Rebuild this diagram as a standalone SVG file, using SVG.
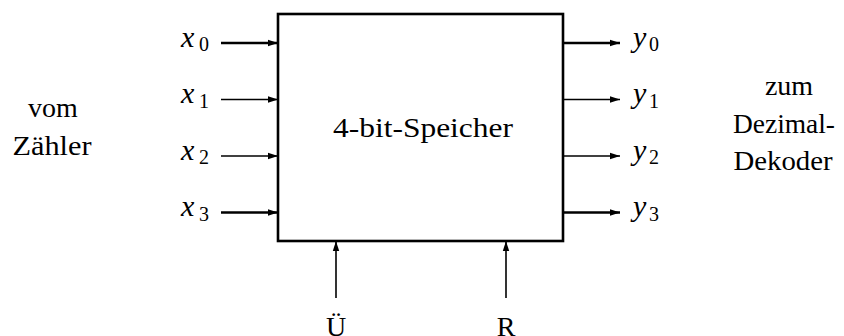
<svg xmlns="http://www.w3.org/2000/svg" width="844" height="336" viewBox="0 0 844 336">
<style>
.thick{stroke:#000;stroke-width:2.6;fill:none}
.thin{stroke:#000;stroke-width:1.6;fill:none}
.box{stroke:#000;stroke-width:2.6;fill:#fff}
</style>
<defs>
<marker id="ah" viewBox="0 0 10 8" refX="10" refY="4" markerUnits="userSpaceOnUse" markerWidth="10" markerHeight="8" orient="auto">
<path d="M0,0.8 L10,4 L0,7.2 Z" fill="#000"/>
</marker>
</defs>
<g id="connectors">
<line class="thick" x1="221" y1="43" x2="278" y2="43" marker-end="url(#ah)"/>
<line class="thin" x1="221" y1="99.5" x2="278" y2="99.5" marker-end="url(#ah)"/>
<line class="thin" x1="221" y1="156" x2="278" y2="156" marker-end="url(#ah)"/>
<line class="thick" x1="221" y1="212.5" x2="278" y2="212.5" marker-end="url(#ah)"/>
<line class="thick" x1="563" y1="43" x2="620" y2="43" marker-end="url(#ah)"/>
<line class="thin" x1="563" y1="99.5" x2="620" y2="99.5" marker-end="url(#ah)"/>
<line class="thin" x1="563" y1="156" x2="620" y2="156" marker-end="url(#ah)"/>
<line class="thick" x1="563" y1="212.5" x2="620" y2="212.5" marker-end="url(#ah)"/>
<line class="thin" x1="336" y1="298" x2="336" y2="241" stroke-width="2" marker-end="url(#ah)"/>
<line class="thin" x1="506" y1="298" x2="506" y2="241" stroke-width="2" marker-end="url(#ah)"/>
</g>
<g id="speicher">
<rect class="box" x="278" y="14" width="285" height="227"/>
<text font-family="Liberation Serif" font-size="28" x="423" y="137" text-anchor="middle" textLength="180" lengthAdjust="spacingAndGlyphs">4-bit-Speicher</text>
</g>
<g id="inputs">
<text font-family="Liberation Serif" font-size="30" font-style="italic" x="181" y="46.5">x</text><text font-family="Liberation Serif" font-size="20" x="199" y="51">0</text>
<text font-family="Liberation Serif" font-size="30" font-style="italic" x="181" y="103">x</text><text font-family="Liberation Serif" font-size="20" x="199" y="107.5">1</text>
<text font-family="Liberation Serif" font-size="30" font-style="italic" x="181" y="159.5">x</text><text font-family="Liberation Serif" font-size="20" x="199" y="164">2</text>
<text font-family="Liberation Serif" font-size="30" font-style="italic" x="181" y="216">x</text><text font-family="Liberation Serif" font-size="20" x="199" y="220.5">3</text>
</g>
<g id="outputs">
<text font-family="Liberation Serif" font-size="30" font-style="italic" x="633" y="46.5">y</text><text font-family="Liberation Serif" font-size="20" x="649" y="51">0</text>
<text font-family="Liberation Serif" font-size="30" font-style="italic" x="633" y="103">y</text><text font-family="Liberation Serif" font-size="20" x="649" y="107.5">1</text>
<text font-family="Liberation Serif" font-size="30" font-style="italic" x="633" y="159.5">y</text><text font-family="Liberation Serif" font-size="20" x="649" y="164">2</text>
<text font-family="Liberation Serif" font-size="30" font-style="italic" x="633" y="216">y</text><text font-family="Liberation Serif" font-size="20" x="649" y="220.5">3</text>
</g>
<g id="steuer">
<text font-family="Liberation Serif" font-size="28" x="336" y="336" text-anchor="middle">Ü</text>
<text font-family="Liberation Serif" font-size="28" x="506" y="336" text-anchor="middle">R</text>
</g>
<g id="quelle">
<text font-family="Liberation Serif" font-size="28" x="53" y="117" text-anchor="middle">vom</text>
<text font-family="Liberation Serif" font-size="28" x="52" y="155" text-anchor="middle" textLength="79" lengthAdjust="spacingAndGlyphs">Zähler</text>
</g>
<g id="ziel">
<text font-family="Liberation Serif" font-size="28" x="789" y="95" text-anchor="middle">zum</text>
<text font-family="Liberation Serif" font-size="28" x="784" y="133" text-anchor="middle" textLength="102" lengthAdjust="spacingAndGlyphs">Dezimal-</text>
<text font-family="Liberation Serif" font-size="28" x="783" y="170" text-anchor="middle" textLength="99" lengthAdjust="spacingAndGlyphs">Dekoder</text>
</g>
</svg>
